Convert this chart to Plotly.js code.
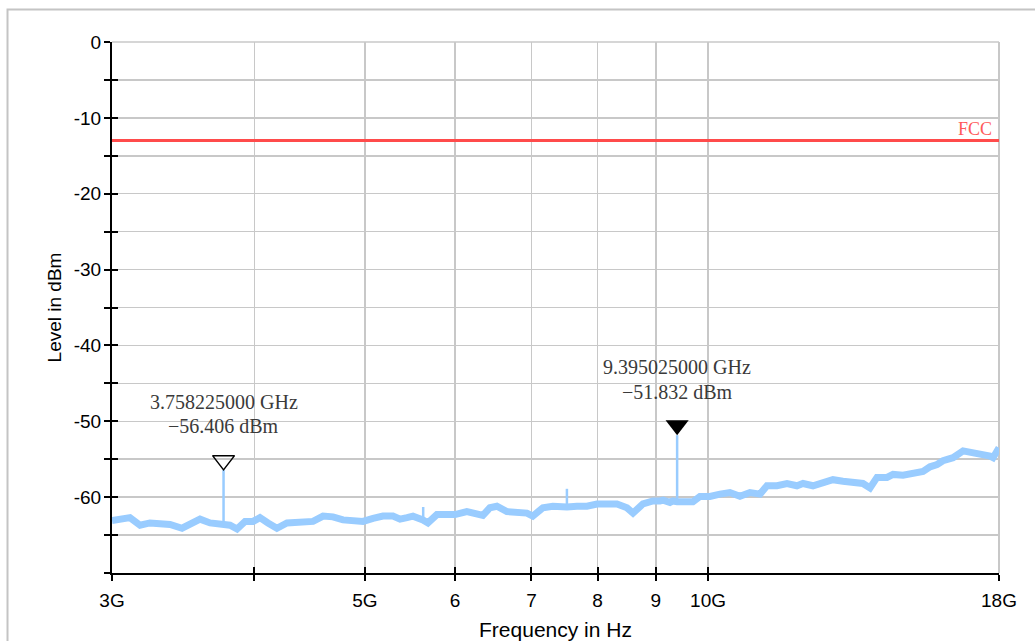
<!DOCTYPE html>
<html>
<head>
<meta charset="utf-8">
<script src="https://cdn.plot.ly/plotly-3.0.1.min.js"></script>
<style>html,body{margin:0;padding:0;background:#fff;}#chart{width:1035px;height:641px;}</style>
</head>
<body>
<div id="chart"></div>
<script>
// Frequency in GHz, level in dBm
const traceFreq = [3.000, 3.111, 3.175, 3.239, 3.305, 3.373, 3.456, 3.533, 3.584, 3.657, 3.732, 3.808, 3.862, 3.925, 3.989, 4.045, 4.111, 4.186, 4.272, 4.386, 4.503, 4.595, 4.688, 4.784, 4.882, 4.981, 5.083, 5.186, 5.292, 5.368, 5.444, 5.510, 5.622, 5.679, 5.783, 5.902, 5.998, 6.144, 6.270, 6.346, 6.436, 6.528, 6.661, 6.797, 6.936, 7.019, 7.163, 7.309, 7.415, 7.521, 7.673, 7.831, 7.991, 8.153, 8.320, 8.490, 8.594, 8.768, 8.948, 9.076, 9.131, 9.260, 9.317, 9.395, 9.583, 9.700, 9.838, 10.039, 10.244, 10.452, 10.666, 10.884, 11.107, 11.264, 11.495, 11.730, 11.968, 12.115, 12.362, 12.612, 12.870, 13.134, 13.402, 13.674, 13.871, 14.068, 14.356, 14.532, 14.827, 15.130, 15.440, 15.659, 15.884, 16.075, 16.404, 16.740, 17.079, 17.324, 17.679, 17.785, 18.000];
const traceLevel = [-63.1, -62.7, -63.7, -63.4, -63.5, -63.6, -64.1, -63.4, -62.9, -63.4, -63.6, -63.7, -64.2, -63.2, -63.2, -62.7, -63.4, -64.1, -63.4, -63.3, -63.2, -62.5, -62.6, -63.0, -63.1, -63.2, -62.8, -62.5, -62.5, -62.9, -62.7, -62.5, -63.0, -63.4, -62.3, -62.3, -62.3, -61.9, -62.3, -62.4, -61.4, -61.2, -61.9, -62.0, -62.1, -62.5, -61.4, -61.2, -61.3, -61.3, -61.2, -61.2, -60.9, -60.9, -60.9, -61.4, -62.1, -60.9, -60.5, -60.5, -60.4, -60.7, -60.5, -60.6, -60.5, -60.6, -59.9, -59.9, -59.6, -59.4, -59.9, -59.4, -59.6, -58.5, -58.5, -58.2, -58.5, -58.2, -58.5, -58.1, -57.7, -57.9, -58.1, -58.2, -58.8, -57.4, -57.4, -57.0, -57.1, -56.8, -56.6, -56.0, -55.7, -55.2, -54.8, -53.9, -54.1, -54.3, -54.6, -54.8, -53.5];

// Narrow spurious spikes
const spikeFreq = [3.758225, 5.625, 7.52, 9.395025];
const spikeBase = [-63.6, -63.0, -61.3, -60.6];
const spikePeak = [-56.406, -61.3, -58.9, -51.832];

// Markers
const markerFreq = [3.758225, 9.395025];
const markerLevel = [-56.406, -51.832];

// Limit line
const limitName = 'FCC';
const limitFreq = [3, 18];
const limitLevel = [-13, -13];

// Axis ticks
const xTickVals = [3, 4, 5, 6, 7, 8, 9, 10, 18];
const xTickText = ['3G', '', '5G', '6', '7', '8', '9', '10G', '18G'];
const yTickVals = [0, -5, -10, -15, -20, -25, -30, -35, -40, -45, -50, -55, -60, -65, -70];
const yTickText = ['0', '', '-10', '', '-20', '', '-30', '', '-40', '', '-50', '', '-60', '', ''];

const xRange = [Math.log10(3), Math.log10(18)];
const yRange = [-70, 0];

// build spike segments
const sx = [], sy = [];
for (let i = 0; i < spikeFreq.length; i++) {
  sx.push(spikeFreq[i], spikeFreq[i], null);
  sy.push(spikeBase[i], spikePeak[i], null);
}

const sans = 'Liberation Sans, Arial, sans-serif';
const serif = 'Liberation Serif, Times New Roman, serif';

const traces = [
  {x: limitFreq, y: limitLevel, mode: 'lines', line: {color: '#ff4b4b', width: 3}, hoverinfo: 'skip'},
  {x: traceFreq, y: traceLevel, mode: 'lines', line: {color: '#99ccff', width: 7}, hoverinfo: 'skip'},
  {x: sx, y: sy, mode: 'lines', line: {color: '#99ccff', width: 2.5}, hoverinfo: 'skip'},
  {x: [markerFreq[0]], y: [markerLevel[0]], mode: 'markers',
   marker: {symbol: 'triangle-up-open', angle: 180, size: 19, standoff: 9.5, color: '#000', line: {color: '#000', width: 1.5}}},
  {x: [markerFreq[1]], y: [markerLevel[1]], mode: 'markers',
   marker: {symbol: 'triangle-up', angle: 180, size: 20, standoff: 10, color: '#000', line: {width: 0}}},
  {x: [], y: [], xaxis: 'x2', yaxis: 'y2', mode: 'lines'}
];

const annotations = [];
markerFreq.forEach((f, i) => {
  const base = {x: Math.log10(f), y: markerLevel[i], xref: 'x', yref: 'y', showarrow: false,
                xanchor: 'center', yanchor: 'bottom', font: {family: serif, size: 20, color: '#3a3a3a'}};
  annotations.push(Object.assign({}, base, {text: f.toFixed(9) + ' GHz', yshift: 55}));
  annotations.push(Object.assign({}, base, {text: '\u2212' + Math.abs(markerLevel[i]).toFixed(3) + ' dBm', yshift: 30.5}));
});
annotations.push({
  x: Math.log10(limitFreq[1]), y: limitLevel[1], xref: 'x', yref: 'y',
  text: limitName, showarrow: false, xanchor: 'right', yanchor: 'bottom', xshift: -5, yshift: 0,
  font: {family: serif, size: 18, color: '#ff5a5a'}
});

const layout = {
  width: 1035, height: 641,
  margin: {l: 112, r: 36, t: 42, b: 68},
  paper_bgcolor: '#fff', plot_bgcolor: '#fff',
  showlegend: false,
  xaxis: {
    type: 'log', range: xRange, tickmode: 'array', tickvals: xTickVals, ticktext: xTickText,
    ticks: 'outside', ticklen: 6, tickwidth: 2, tickcolor: '#000',
    showline: true, linecolor: '#000', linewidth: 2,
    showgrid: true, gridcolor: '#c8c8c8', gridwidth: 1.5, zeroline: false,
    tickfont: {family: sans, size: 19, color: '#000'}, ticklabelstandoff: 3,
    title: {text: 'Frequency in Hz', font: {family: sans, size: 21, color: '#000'}, standoff: 17},
    automargin: false, fixedrange: true
  },
  yaxis: {
    range: yRange, tickmode: 'array', tickvals: yTickVals, ticktext: yTickText,
    ticks: 'outside', ticklen: 6, tickwidth: 2, tickcolor: '#000',
    showline: true, linecolor: '#000', linewidth: 2,
    showgrid: true, gridcolor: '#c8c8c8', gridwidth: 1.5, zeroline: false,
    tickfont: {family: sans, size: 19, color: '#000'}, ticklabelstandoff: -1,
    title: {text: 'Level in dBm', font: {family: sans, size: 19, color: '#000'}, standoff: 7},
    automargin: false, fixedrange: true
  },
  xaxis2: {
    type: 'log', range: xRange, overlaying: 'x', anchor: 'y2', side: 'bottom',
    tickmode: 'array', tickvals: xTickVals, ticks: 'inside', ticklen: 6, tickwidth: 2, tickcolor: '#000',
    showticklabels: false, showgrid: false, showline: false, zeroline: false, fixedrange: true
  },
  yaxis2: {
    range: yRange, overlaying: 'y', anchor: 'x2', side: 'left',
    tickmode: 'array', tickvals: yTickVals, ticks: 'inside', ticklen: 6, tickwidth: 2, tickcolor: '#000',
    showticklabels: false, showgrid: false, showline: false, zeroline: false, fixedrange: true
  },
  shapes: [
    {type: 'line', xref: 'paper', yref: 'paper', x0: 0, x1: 1, y0: 1, y1: 1, line: {color: '#c8c8c8', width: 1.5}, layer: 'below'},
    {type: 'line', xref: 'paper', yref: 'paper', x0: 1, x1: 1, y0: 0, y1: 1, line: {color: '#c8c8c8', width: 2}, layer: 'below'},
    {type: 'rect', xref: 'paper', yref: 'paper', x0: -0.1178, x1: 1.2, y0: -0.4, y1: 1.0612, line: {color: '#c4c4c4', width: 2}, fillcolor: 'rgba(0,0,0,0)', layer: 'below'}
  ],
  annotations: annotations
};

Plotly.newPlot('chart', traces, layout, {displayModeBar: false, staticPlot: true});
</script>
</body>
</html>
